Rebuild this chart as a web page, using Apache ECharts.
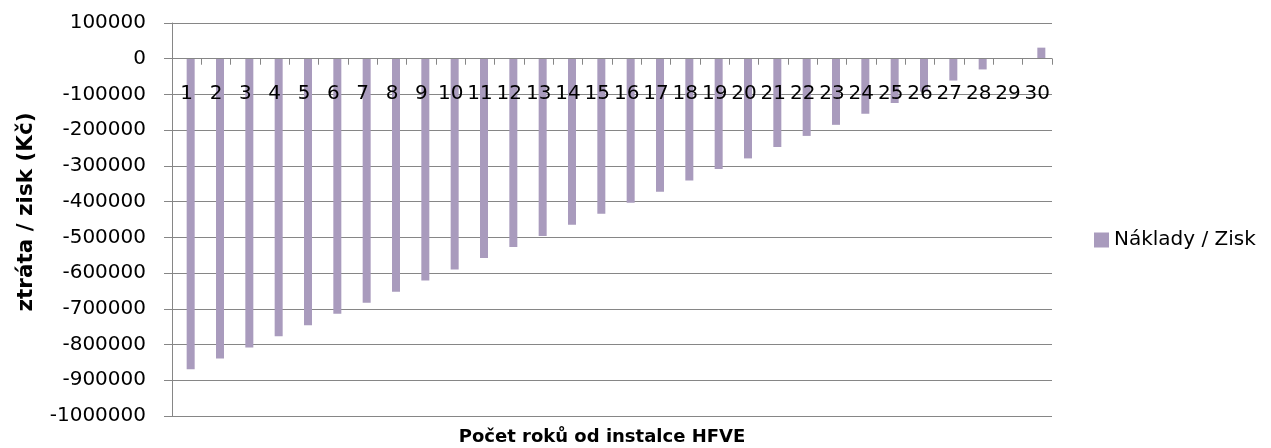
<!DOCTYPE html>
<html><head><meta charset="utf-8">
<script src="https://cdn.jsdelivr.net/npm/echarts@6/dist/echarts.min.js"></script>
<style>html,body{margin:0;padding:0;background:#fff}#c{width:1271px;height:448px}</style>
</head><body><div id="c"></div>
<script>
const categories = ['1','2','3','4','5','6','7','8','9','10','11','12','13','14','15','16','17','18','19','20','21','22','23','24','25','26','27','28','29','30'];
const values = [-869000,-839000,-808000,-777000,-746000,-714000,-683000,-652000,-621000,-590000,-558000,-527000,-496000,-465000,-434000,-403000,-372000,-341000,-309000,-279000,-247000,-216000,-185000,-154000,-124000,-92000,-61000,-30000,0,31000];
const seriesName = 'Náklady / Zisk';
const xTitle = 'Počet roků od instalce HFVE';
const yTitle = 'ztráta / zisk (Kč)';
const yMin = -1000000, yMax = 100000, yStep = 100000;
const font = '"DejaVu Sans", sans-serif';
const gray = '#868686';
const chart = echarts.init(document.getElementById('c'));
const gridTop = 23, gridBottom = 32, H = 448;
const plotH = H - gridTop - gridBottom;
const zeroOffset = plotH * (0 - yMin) / (yMax - yMin);
chart.setOption({
  animation: false,
  grid: {left: 172, right: 219, top: gridTop, bottom: gridBottom, containLabel: false, outerBoundsMode: 'none'},
  legend: {
    data: [seriesName], orient: 'vertical', left: 1089, top: 225,
    itemWidth: 15, itemHeight: 15, icon: 'rect', itemGap: 6,
    textStyle: {fontFamily: font, fontSize: 20, color: '#000'}
  },
  graphic: [
    {type: 'text', x: 602, y: 437, style: {text: xTitle, fontFamily: font, fontSize: 18, fontWeight: 'bold', fill: '#000', textAlign: 'center', textVerticalAlign: 'middle'}},
    {type: 'text', x: 26, y: 212, rotation: Math.PI / 2, style: {text: yTitle, fontFamily: font, fontSize: 21.5, fontWeight: 'bold', fill: '#000', textAlign: 'center', textVerticalAlign: 'middle'}}
  ],
  xAxis: {
    type: 'category', data: categories, position: 'bottom', offset: -zeroOffset, z: 5,
    axisLine: {onZero: false, lineStyle: {color: gray, width: 1}},
    axisTick: {show: true, interval: 0, length: 6, lineStyle: {color: gray}},
    axisLabel: {interval: 0, hideOverlap: false, margin: 25, fontFamily: font, fontSize: 20, color: '#000'}
  },
  yAxis: {
    type: 'value', min: yMin, max: yMax, interval: yStep,
    axisLine: {show: true, lineStyle: {color: gray}},
    axisTick: {show: true, length: 8, lineStyle: {color: gray}},
    axisLabel: {margin: 26, fontFamily: font, fontSize: 20, color: '#000', formatter: v => String(v)},
    splitLine: {show: true, lineStyle: {color: gray, width: 1}}
  },
  series: [
    {name: '_', type: 'bar', data: categories.map(() => null), barWidth: 8, barGap: '0%'},
    {name: seriesName, type: 'bar', data: values, barWidth: 8, barGap: '0%',
     itemStyle: {color: '#a99bbd'}}
  ]
});
</script></body></html>
